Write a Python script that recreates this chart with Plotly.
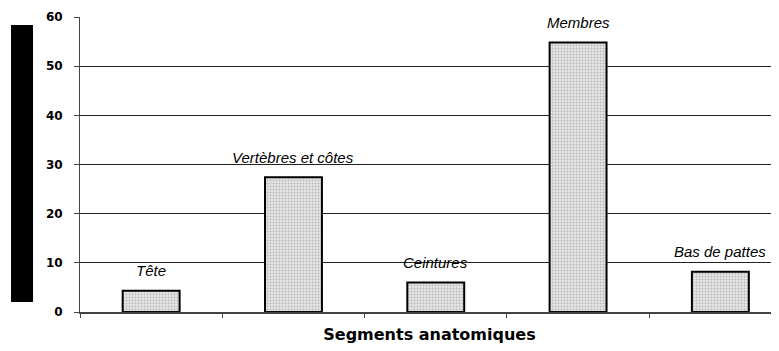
import plotly.graph_objects as go

segments = ["Tête", "Vertèbres et côtes", "Ceintures", "Membres", "Bas de pattes"]
values = [4.3, 27.4, 6.0, 54.8, 8.2]
y_ticks = [0, 10, 20, 30, 40, 50, 60]

fig = go.Figure(go.Bar(
    x=segments,
    y=values,
    width=0.4,
    marker=dict(
        color="#d8d8d8",
        line=dict(color="black", width=2),
        pattern=dict(shape=".", fgcolor="#8c8c8c", bgcolor="#e6e6e6", size=3, solidity=0.35),
    ),
    hoverinfo="x+y",
))

for name, val in zip(segments, values):
    fig.add_annotation(x=name, y=val, text=f"<i>{name}</i>", showarrow=False,
                       yshift=20, yanchor="middle",
                       font=dict(family="Liberation Sans, Arial", size=15, color="black"))

# black block on the left where the y title would be
fig.add_shape(type="rect", xref="paper", yref="paper",
              x0=-0.0987, x1=-0.0672, y0=0.034, y1=0.973,
              fillcolor="black", line=dict(width=0))

# page body has an 8px margin, so the figure is 8px smaller each way
fig.update_layout(
    width=771, height=343,
    margin=dict(l=72, r=0, t=9, b=39),
    paper_bgcolor="white", plot_bgcolor="white",
    showlegend=False,
    font=dict(family="DejaVu Sans, Arial", color="black"),
    xaxis=dict(
        range=[-0.5, 4.412],
        showticklabels=False,
        ticks="outside", ticklen=4, tickcolor="#444", tickson="boundaries",
        showline=True, linecolor="#444", linewidth=2,
        showgrid=False,
        title=dict(text="<b>Segments anatomiques</b>", standoff=16,
                   font=dict(size=16, family="DejaVu Sans")),
    ),
    yaxis=dict(
        range=[0, 60],
        tickvals=y_ticks,
        tickfont=dict(size=12, family="DejaVu Sans", weight="bold"),
        ticks="outside", ticklen=5, tickcolor="#444",
        ticklabelstandoff=9,
        showline=True, linecolor="#444", linewidth=1,
        showgrid=True, gridcolor="#222", gridwidth=1,
        zeroline=False,
    ),
    bargap=0.6,
)

fig.write_html("out.html")
